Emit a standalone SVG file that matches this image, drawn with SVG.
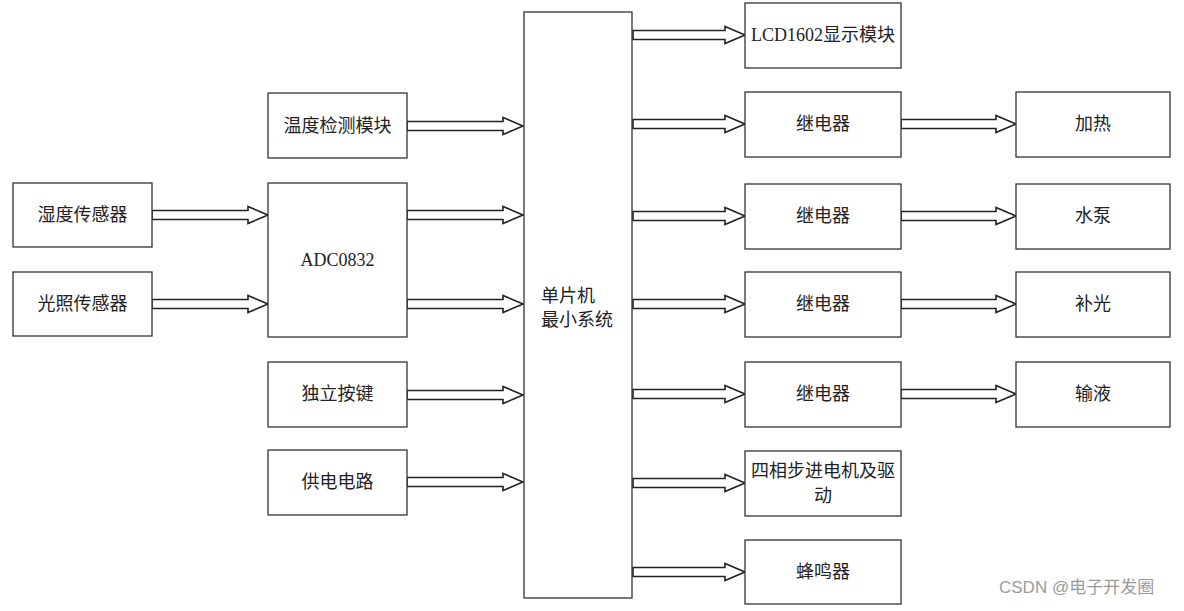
<svg xmlns="http://www.w3.org/2000/svg" width="1184" height="611" viewBox="0 0 1184 611">
<style>
.box{fill:#fff;stroke:#333;stroke-width:1.3}
.arr{fill:#fff;stroke:#222;stroke-width:1.6;stroke-linejoin:miter}
text{font-family:"Liberation Serif","Noto Sans CJK SC",serif;font-size:18px;fill:#222;text-anchor:middle;dominant-baseline:central}
.left{text-anchor:start}
.wm{font-family:"Liberation Sans","Noto Sans CJK SC",sans-serif;font-size:17px;fill:#9a9a9a;text-anchor:start}
</style>
<rect width="1184" height="611" fill="#fff"/>
<g id="connectors">
<path class="arr" d="M152,210.5H248V206.5L268,215L248,223.5V219.5H152Z"/>
<path class="arr" d="M152,299.5H248V295.5L268,304L248,312.5V308.5H152Z"/>
<path class="arr" d="M407,121.5H503V117.5L523,126L503,134.5V130.5H407Z"/>
<path class="arr" d="M407,210.5H503V206.5L523,215L503,223.5V219.5H407Z"/>
<path class="arr" d="M407,299.5H503V295.5L523,304L503,312.5V308.5H407Z"/>
<path class="arr" d="M407,390.5H503V386.5L523,395L503,403.5V399.5H407Z"/>
<path class="arr" d="M407,477.5H503V473.5L523,482L503,490.5V486.5H407Z"/>
<path class="arr" d="M633,30.5H725V26.5L745,35L725,43.5V39.5H633Z"/>
<path class="arr" d="M633,119.5H725V115.5L745,124L725,132.5V128.5H633Z"/>
<path class="arr" d="M633,211.5H725V207.5L745,216L725,224.5V220.5H633Z"/>
<path class="arr" d="M633,299.5H725V295.5L745,304L725,312.5V308.5H633Z"/>
<path class="arr" d="M633,389.5H725V385.5L745,394L725,402.5V398.5H633Z"/>
<path class="arr" d="M633,478.5H725V474.5L745,483L725,491.5V487.5H633Z"/>
<path class="arr" d="M633,567.5H725V563.5L745,572L725,580.5V576.5H633Z"/>
<path class="arr" d="M901,119.5H996V115.5L1016,124L996,132.5V128.5H901Z"/>
<path class="arr" d="M901,211.5H996V207.5L1016,216L996,224.5V220.5H901Z"/>
<path class="arr" d="M901,299.5H996V295.5L1016,304L996,312.5V308.5H901Z"/>
<path class="arr" d="M901,389.5H996V385.5L1016,394L996,402.5V398.5H901Z"/>
</g>
<g id="mcu"><rect class="box" x="524" y="12" width="108" height="586"/><text class="left" x="541" y="296">单片机</text><text class="left" x="541" y="320">最小系统</text></g>
<g id="humidity"><rect class="box" x="13" y="183" width="139" height="64"/><text x="82.5" y="215">湿度传感器</text></g>
<g id="light"><rect class="box" x="13" y="272" width="139" height="64"/><text x="82.5" y="304">光照传感器</text></g>
<g id="temp"><rect class="box" x="268" y="93" width="139" height="65"/><text x="337.5" y="126">温度检测模块</text></g>
<g id="adc"><rect class="box" x="268" y="183" width="139" height="154"/><text x="337.5" y="260">ADC0832</text></g>
<g id="keys"><rect class="box" x="268" y="362" width="139" height="65"/><text x="337.5" y="394">独立按键</text></g>
<g id="power"><rect class="box" x="268" y="450" width="139" height="65"/><text x="337.5" y="482">供电电路</text></g>
<g id="lcd"><rect class="box" x="745" y="3" width="156" height="65"/><text x="823" y="35">LCD1602显示模块</text></g>
<g id="relay1"><rect class="box" x="745" y="92" width="156" height="65"/><text x="823" y="124">继电器</text></g>
<g id="relay2"><rect class="box" x="745" y="184" width="156" height="65"/><text x="823" y="216">继电器</text></g>
<g id="relay3"><rect class="box" x="745" y="272" width="156" height="65"/><text x="823" y="304">继电器</text></g>
<g id="relay4"><rect class="box" x="745" y="362" width="156" height="65"/><text x="823" y="394">继电器</text></g>
<g id="stepper"><rect class="box" x="745" y="451" width="156" height="65"/><text x="823" y="471">四相步进电机及驱</text><text x="823" y="496">动</text></g>
<g id="buzzer"><rect class="box" x="745" y="540" width="156" height="64"/><text x="823" y="572">蜂鸣器</text></g>
<g id="heat"><rect class="box" x="1016" y="92" width="154" height="65"/><text x="1093" y="124">加热</text></g>
<g id="pump"><rect class="box" x="1016" y="184" width="154" height="65"/><text x="1093" y="216">水泵</text></g>
<g id="fill"><rect class="box" x="1016" y="272" width="154" height="65"/><text x="1093" y="304">补光</text></g>
<g id="infuse"><rect class="box" x="1016" y="362" width="154" height="65"/><text x="1093" y="394">输液</text></g>
<text class="wm" x="999" y="587">CSDN @电子开发圈</text>
</svg>
